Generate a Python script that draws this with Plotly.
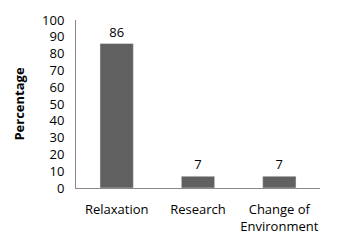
import plotly.graph_objects as go

categories = ["Relaxation", "Research", "Change of<br>Environment"]
values = [86, 7, 7]
y_ticks = list(range(0, 101, 10))

fig = go.Figure(go.Bar(
    x=categories, y=values, marker_color="#606060",
    text=[str(v) for v in values], textposition="outside",
    textfont=dict(color="black", size=13, family="Open Sans"),
    cliponaxis=False,
))
fig.update_layout(
    width=340, height=247,
    margin=dict(l=68, r=28, t=12, b=67),
    paper_bgcolor="white", plot_bgcolor="white",
    bargap=0.59,
    showlegend=False,
    font=dict(family="Open Sans", size=13, color="black"),
    xaxis=dict(showline=True, linecolor="#888888", linewidth=1, automargin=False,
               ticks="outside", ticklen=9, tickcolor="white",
               tickfont=dict(size=13), showgrid=False),
    yaxis=dict(range=[0, 100], tickvals=y_ticks, showline=True, linecolor="#888888",
               linewidth=1, showgrid=False, zeroline=False, automargin=False,
               ticks="outside", ticklen=8, tickcolor="white",
               tickfont=dict(size=13),
               title=dict(text="<b>Percentage</b>", font=dict(size=13), standoff=14)),
)
fig.write_html("out.html")
